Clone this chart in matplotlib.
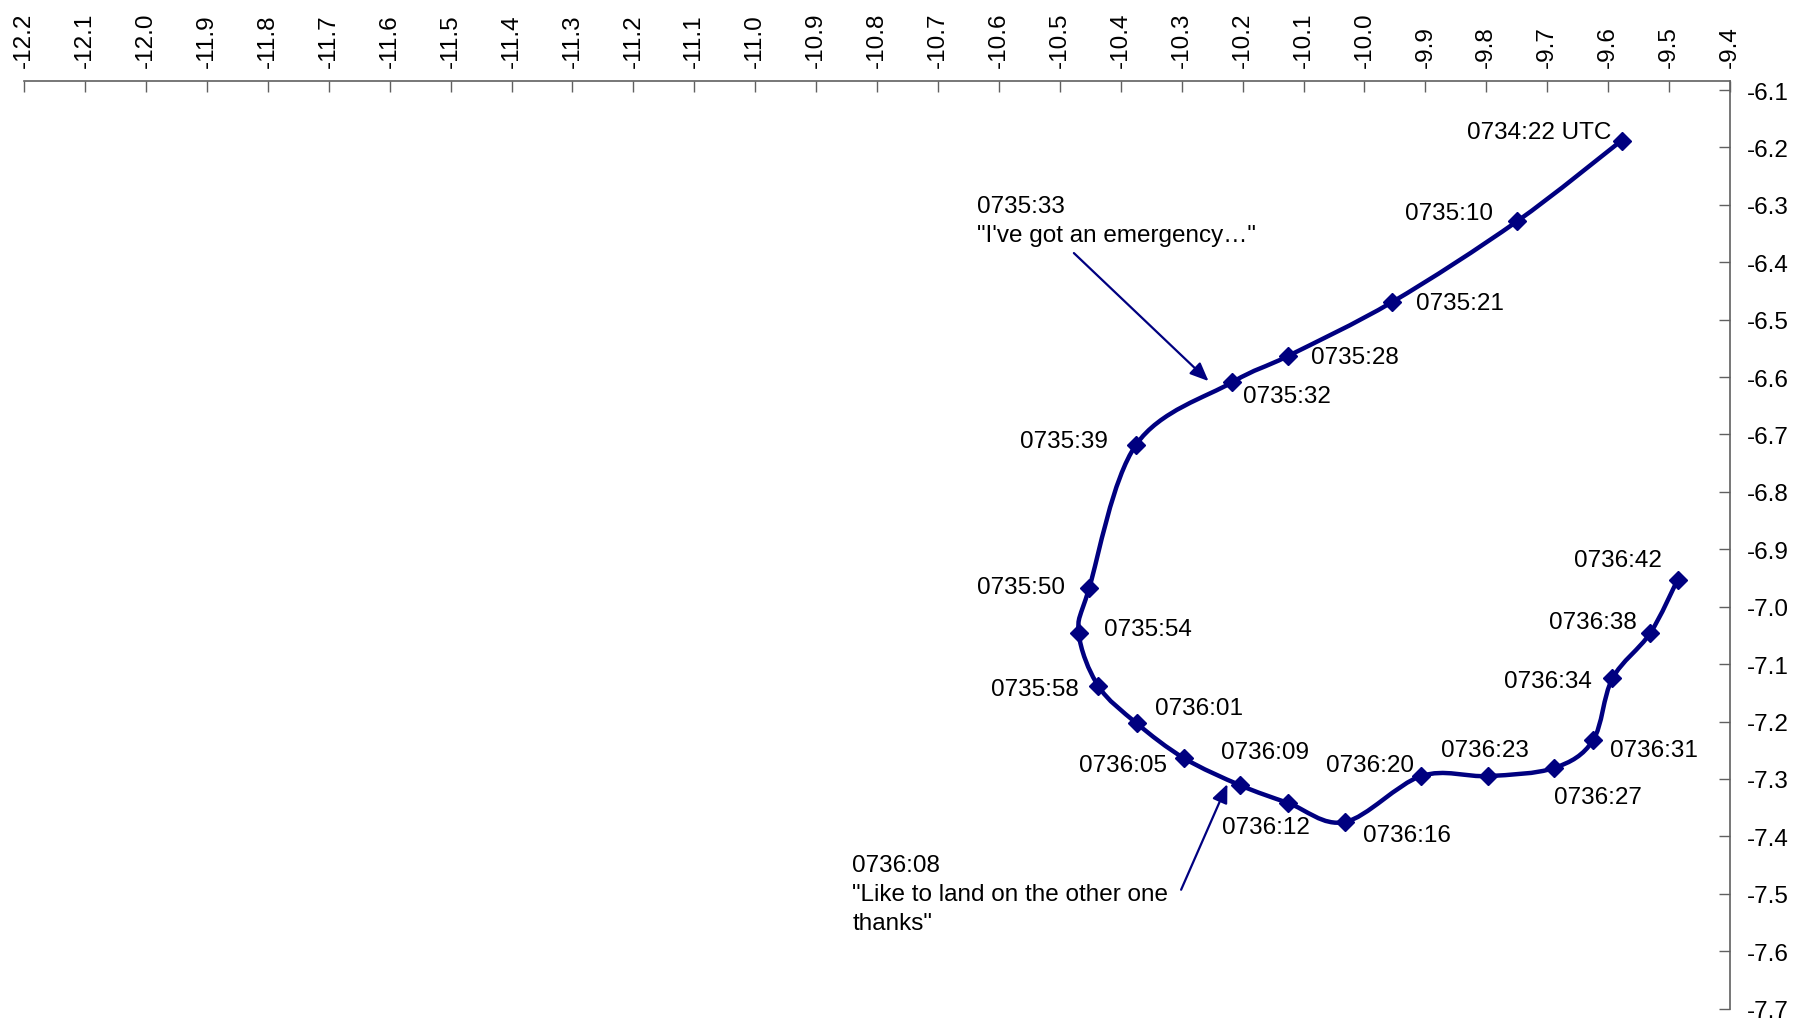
import matplotlib.pyplot as plt
import numpy as np
from matplotlib.path import Path
from matplotlib.patches import PathPatch

plt.rcParams['font.family'] = ['Liberation Sans', 'DejaVu Sans']

# Track fixes (longitude, latitude) and the time stamp of each fix
times = ["0734:22 UTC", "0735:10", "0735:21", "0735:28", "0735:32", "0735:39",
         "0735:50", "0735:54", "0735:58", "0736:01", "0736:05", "0736:09",
         "0736:12", "0736:16", "0736:20", "0736:23", "0736:27", "0736:31",
         "0736:34", "0736:38", "0736:42"]
lon = [-9.578, -9.750, -9.954, -10.125, -10.217, -10.375,
       -10.452, -10.469, -10.437, -10.374, -10.296, -10.204,
       -10.125, -10.032, -9.907, -9.797, -9.689, -9.625,
       -9.593, -9.531, -9.486]
lat = [-6.188, -6.329, -6.469, -6.563, -6.609, -6.718,
       -6.968, -7.046, -7.138, -7.203, -7.264, -7.311,
       -7.342, -7.375, -7.295, -7.295, -7.281, -7.233,
       -7.125, -7.046, -6.953]

# label placement: offset in points from the fix, horizontal alignment
label_pos = [(-7, 6, 'right'), (-17, 6, 'right'), (17, -1, 'left'), (16, -1, 'left'),
             (8, -10, 'left'), (-20, 3, 'right'), (-17, 1, 'right'), (18, 3, 'left'),
             (-14, -2, 'right'), (13, 11, 'left'), (-12, -5, 'right'), (-14, 24, 'left'),
             (-48, -17, 'left'), (13, -9, 'left'), (-5, 8, 'right'), (-34, 19, 'left'),
             (0, -21, 'left'), (12, -7, 'left'), (-15, -2, 'right'), (-10, 8, 'right'),
             (-11, 14, 'right')]

# radio call-outs: text, text anchor, arrow start, arrow tip
callouts = [
    ("0735:33\n\"I've got an emergency\u2026\"", (-10.636, -6.283), (-10.477, -6.384), (-10.256, -6.607)),
    ("0736:08\n\"Like to land on the other one\nthanks\"", (-10.841, -7.431), (-10.301, -7.493), (-10.225, -7.309)),
]

x_ticks = np.round(np.arange(-12.2, -9.35, 0.1), 1)
y_ticks = np.round(np.arange(-6.1, -7.75, -0.1), 1)

navy = '#000080'
axis_col = '#606060'
fs = 17.5


def smooth_path(xs, ys):
    # Catmull-Rom style bezier through every point
    pts = np.column_stack([xs, ys])
    n = len(pts)
    verts = [pts[0]]
    codes = [Path.MOVETO]
    for i in range(n - 1):
        p0 = pts[max(i - 1, 0)]
        p1 = pts[i]
        p2 = pts[i + 1]
        p3 = pts[min(i + 2, n - 1)]
        c1 = p1 + (p2 - p0) / 6.0
        c2 = p2 - (p3 - p1) / 6.0
        verts += [c1, c2, p2]
        codes += [Path.CURVE4] * 3
    return Path(verts, codes)


fig = plt.figure(figsize=(18.05, 10.20), dpi=100)
ax = fig.add_axes([0.01341, 0.01020, 0.94504, 0.90941])

ax.set_xlim(-12.2, -9.4)
ax.set_ylim(-7.7, -6.0843)

patch = PathPatch(smooth_path(lon, lat), facecolor='none', edgecolor=navy,
                  lw=3.2, capstyle='round', joinstyle='round', zorder=3)
ax.add_patch(patch)
ax.plot(lon, lat, ls='none', marker='D', markersize=9.5, color=navy, zorder=4)

for t, x, y, (dx, dy, ha) in zip(times, lon, lat, label_pos):
    ax.annotate(t, (x, y), xytext=(dx, dy), textcoords='offset points',
                ha=ha, va='center', fontsize=fs, color='black', zorder=5)

for text, tpos, start, tip in callouts:
    ax.text(tpos[0], tpos[1], text, ha='left', va='top', fontsize=fs,
            linespacing=1.4, color='black')
    ax.annotate('', xy=tip, xytext=start,
                arrowprops=dict(arrowstyle='-|>,head_length=0.7,head_width=0.3',
                                color=navy, lw=1.6, shrinkA=0, shrinkB=0,
                                mutation_scale=16))

# axes: longitude along the top, latitude on the right
ax.xaxis.tick_top()
ax.yaxis.tick_right()
ax.set_xticks(x_ticks)
ax.set_xticklabels([f"{v:.1f}" for v in x_ticks], rotation=90)
ax.set_yticks(y_ticks)
ax.set_yticklabels([f"{v:.1f}" for v in y_ticks])
ax.tick_params(axis='x', direction='in', length=8, width=1, color=axis_col,
               pad=10, labelsize=fs)
ax.tick_params(axis='y', direction='in', length=8, width=1, color=axis_col,
               pad=12, labelsize=fs)
for side in ['left', 'bottom']:
    ax.spines[side].set_visible(False)
for side in ['top', 'right']:
    ax.spines[side].set_color(axis_col)
    ax.spines[side].set_linewidth(1.2)

fig.savefig('out.png', dpi=100)
